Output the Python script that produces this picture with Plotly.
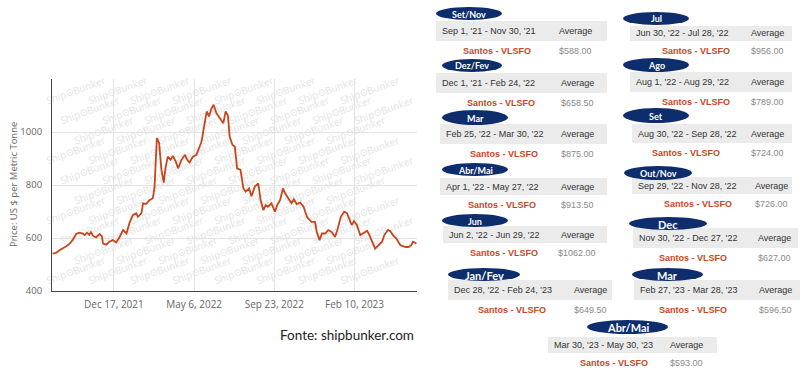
import plotly.graph_objects as go

W, H = 805, 376

# ---------------- data: Santos VLSFO price (US$/t) ----------------
dates = [
    "2021-09-01", "2021-09-07", "2021-09-13", "2021-09-19", "2021-09-25", "2021-09-30", "2021-10-06", "2021-10-12", "2021-10-18", "2021-10-24",
    "2021-10-27", "2021-10-31", "2021-11-04", "2021-11-07", "2021-11-11", "2021-11-16", "2021-11-22", "2021-11-26", "2021-11-28", "2021-12-04",
    "2021-12-09", "2021-12-15", "2021-12-21", "2021-12-27", "2022-01-02", "2022-01-08", "2022-01-13", "2022-01-19", "2022-01-25", "2022-01-28",
    "2022-02-03", "2022-02-06", "2022-02-11", "2022-02-17", "2022-02-23", "2022-02-26", "2022-03-02", "2022-03-06", "2022-03-10", "2022-03-14",
    "2022-03-17", "2022-03-21", "2022-03-26", "2022-03-30", "2022-04-04", "2022-04-08", "2022-04-14", "2022-04-20", "2022-04-24", "2022-04-28",
    "2022-05-04", "2022-05-10", "2022-05-15", "2022-05-19", "2022-05-23", "2022-05-28", "2022-06-01", "2022-06-05", "2022-06-09", "2022-06-14",
    "2022-06-20", "2022-06-26", "2022-06-30", "2022-07-04", "2022-07-07", "2022-07-12", "2022-07-16", "2022-07-20", "2022-07-26", "2022-07-31",
    "2022-08-04", "2022-08-10", "2022-08-14", "2022-08-20", "2022-08-26", "2022-08-30", "2022-09-04", "2022-09-08", "2022-09-12", "2022-09-18",
    "2022-09-24", "2022-09-28", "2022-10-03", "2022-10-08", "2022-10-12", "2022-10-18", "2022-10-23", "2022-10-27", "2022-11-01", "2022-11-07",
    "2022-11-13", "2022-11-19", "2022-11-21", "2022-11-27", "2022-12-03", "2022-12-06", "2022-12-11", "2022-12-15", "2022-12-21", "2022-12-26",
    "2023-01-01", "2023-01-07", "2023-01-11", "2023-01-17", "2023-01-23", "2023-01-28", "2023-02-01", "2023-02-05", "2023-02-09", "2023-02-14",
    "2023-02-20", "2023-02-26", "2023-03-04", "2023-03-08", "2023-03-14", "2023-03-18", "2023-03-24", "2023-03-30", "2023-04-03", "2023-04-09",
    "2023-04-13", "2023-04-18", "2023-04-24", "2023-05-01", "2023-05-10", "2023-05-15", "2023-05-20", "2023-05-23", "2023-05-29",
]
prices = [
    541, 544, 554, 560, 569, 577, 592, 615, 620, 617,
    611, 620, 612, 622, 607, 602, 615, 607, 579, 575,
    586, 592, 583, 604, 630, 617, 655, 686, 693, 680,
    693, 731, 728, 743, 750, 794, 977, 958, 857, 809,
    863, 907, 895, 910, 888, 863, 895, 914, 895, 885,
    907, 914, 945, 964, 1015, 1078, 1059, 1087, 1103, 1071,
    1052, 1033, 1078, 1062, 983, 951, 945, 863, 857, 787,
    775, 787, 758, 794, 806, 743, 705, 724, 718, 731,
    699, 724, 743, 787, 768, 750, 731, 746, 728, 734,
    718, 680, 674, 661, 661, 623, 592, 617, 617, 630,
    623, 604, 630, 680, 699, 693, 668, 649, 664, 649,
    611, 620, 627, 611, 579, 560, 573, 586, 611, 630,
    627, 611, 598, 573, 566, 566, 573, 586, 579,
]

x_tickvals = ["2021-12-17", "2022-05-06", "2022-09-23", "2023-02-10"]
x_ticktext = ["Dec 17, 2021", "May 6, 2022", "Sep 23, 2022", "Feb 10, 2023"]
y_tickvals = [400, 600, 800, 1000, 1200]
y_ticktext = ["400", "600", "800", "1000", ""]
y_title = "Price: US $ per Metric Tonne"
source_text = "Fonte: shipbunker.com"
watermark = "Ship\u2299Bunker"

# ---------------- data: period averages ----------------
period_labels = ["Set/Nov", "Dez/Fev", "Mar", "Abr/Mai", "Jun", "Jan/Fev",
                 "Jul", "Ago", "Set", "Out/Nov", "Dec", "Mar", "Abr/Mai"]
period_ranges = ["Sep 1, '21 - Nov 30, '21", "Dec 1, '21 - Feb 24, '22", "Feb 25, '22 - Mar 30, '22",
                 "Apr 1, '22 - May 27, '22", "Jun 2, '22 - Jun 29, '22", "Dec 28, '22 - Feb 24, '23",
                 "Jun 30, '22 - Jul 28, '22", "Aug 1, '22 - Aug 29, '22", "Aug 30, '22 - Sep 28, '22",
                 "Sep 29, '22 - Nov 28, '22", "Nov 30, '22 - Dec 27, '22", "Feb 27, '23 - Mar 28, '23",
                 "Mar 30, '23 - May 30, '23"]
period_avgs = [588.00, 658.50, 875.00, 913.50, 1062.00, 649.50,
               956.00, 789.00, 724.00, 726.00, 627.00, 596.50, 593.00]
port_name = "Santos - VLSFO"
avg_header = "Average"

# ---------------- layout of the average boxes (pixels) ----------------
# bar x0, x1, y0, y1 | ellipse x0, x1, y0, y1 | port label right edge | average column centre | label font size
box_geom = [
    (436, 607, 21, 41, 436, 502, 7, 20, 533, 575, 9),
    (436, 607, 73, 93, 442, 502, 59, 72, 537, 577, 9),
    (440, 607, 124, 144, 442, 508, 110, 125, 540, 577, 9),
    (440, 607, 178, 195, 442, 508, 163, 176, 538, 577, 9),
    (443, 607, 226, 243, 442, 508, 214, 227, 540, 577, 9),
    (448, 612, 280, 300, 448, 520, 268, 281, 548, 590, 11),
    (630, 792, 26, 41, 623, 689, 12, 25, 732, 767, 9),
    (630, 792, 72, 92, 623, 689, 58, 72, 732, 767, 9),
    (632, 792, 124, 143, 623, 689, 108, 123, 722, 767, 9),
    (632, 792, 177, 194, 624, 692, 166, 180, 734, 771, 9),
    (633, 798, 228, 248, 629, 707, 217, 230, 729, 774, 11),
    (634, 800, 280, 300, 632, 703, 268, 281, 729, 775, 11),
    (548, 717, 337, 353, 587, 668, 320, 334, 650, 686, 11),
]

LINE = "#c8451b"
RED = "#c9461e"
NAVY = "#0d2d6c"
BAR = "#ebebeb"
TXT = "#333333"
VAL = "#8a8a8a"
AX = "#666666"

PL, PR, PT, PB = 52, 417, 79, 291  # plot area in pixels


def px(x):
    return x / W


def py(y):
    return 1 - y / H


fig = go.Figure()
fig.add_trace(go.Scatter(x=dates, y=prices, mode="lines",
                         line=dict(color=LINE, width=1.8),
                         hoverinfo="skip", showlegend=False))

shapes = []
annotations = []


def label(x, y, text, size, color, family="Liberation Sans", xa="center", angle=0):
    annotations.append(dict(x=px(x), y=py(y), xref="paper", yref="paper", text=text,
                            showarrow=False, xanchor=xa, yanchor="middle", textangle=angle,
                            font=dict(family=family, size=size, color=color)))


# faint watermark tiles drawn beneath the line (shape labels on the lower layer)
row = 0
yy = PT + 12
while yy < PB - 6:
    xx = PL + 24 + (row * 14) % 42
    while xx < PR - 20:
        shapes.append(dict(type="rect", xref="paper", yref="paper", layer="below",
                           x0=px(xx - 1), x1=px(xx + 1), y0=py(yy + 1), y1=py(yy - 1),
                           line=dict(width=0), fillcolor="rgba(0,0,0,0)",
                           label=dict(text=watermark, textangle=-20, textposition="middle center",
                                      font=dict(family="Open Sans", size=10, color="#e4e4e4"))))
        xx += 42
    yy += 20
    row += 1

label(13, 185, y_title, 9.5, AX, family="Open Sans", angle=-90)
label(278, 335, source_text, 13.5, "#222222", family="Lato", xa="left")

for lab, rng, avg, g in zip(period_labels, period_ranges, period_avgs, box_geom):
    bx0, bx1, by0, by1, ex0, ex1, ey0, ey1, port_r, avg_c, lsize = g
    shapes.append(dict(type="rect", xref="paper", yref="paper",
                       x0=px(bx0), x1=px(bx1), y0=py(by1), y1=py(by0),
                       fillcolor=BAR, line=dict(width=0), layer="below"))
    shapes.append(dict(type="circle", xref="paper", yref="paper",
                       x0=px(ex0), x1=px(ex1), y0=py(ey1), y1=py(ey0),
                       fillcolor=NAVY, line=dict(width=0), layer="below"))
    label((ex0 + ex1) / 2, (ey0 + ey1) / 2 + 0.5, "<b>%s</b>" % lab, lsize, "white", family="Lato")
    bym = (by0 + by1) / 2
    label(bx0 + 4, bym, rng, 9, TXT, xa="left")
    label(avg_c, bym, avg_header, 9, TXT)
    label(port_r, by1 + 10, "<b>%s</b>" % port_name, 9, RED, xa="right")
    label(avg_c, by1 + 10, "$%.2f" % avg, 9, VAL)

fig.update_layout(
    width=W, height=H,
    margin=dict(l=0, r=0, t=0, b=0),
    paper_bgcolor="white", plot_bgcolor="rgba(0,0,0,0)",
    showlegend=False,
    shapes=shapes, annotations=annotations,
    xaxis=dict(domain=[px(PL), px(PR)], type="date",
               range=["2021-08-31", "2023-05-30"],
               tickvals=x_tickvals, ticktext=x_ticktext,
               showgrid=True, gridcolor="#e3e3e3", gridwidth=1,
               showline=True, linecolor="#444444", linewidth=1,
               ticks="", zeroline=False, automargin=False, ticklabelstandoff=4,
               tickfont=dict(family="Open Sans", size=10, color=AX)),
    yaxis=dict(domain=[py(PB), py(PT)], range=[400, 1200],
               tickvals=y_tickvals, ticktext=y_ticktext,
               showgrid=True, gridcolor="#e3e3e3", gridwidth=1,
               showline=True, linecolor="#444444", linewidth=1,
               ticks="", zeroline=False, automargin=False, ticklabelstandoff=7,
               tickfont=dict(family="Open Sans", size=9.5, color=AX)),
)

fig.write_html("out.html", config={"displayModeBar": False},
               post_script="document.body.style.margin='0px';")
